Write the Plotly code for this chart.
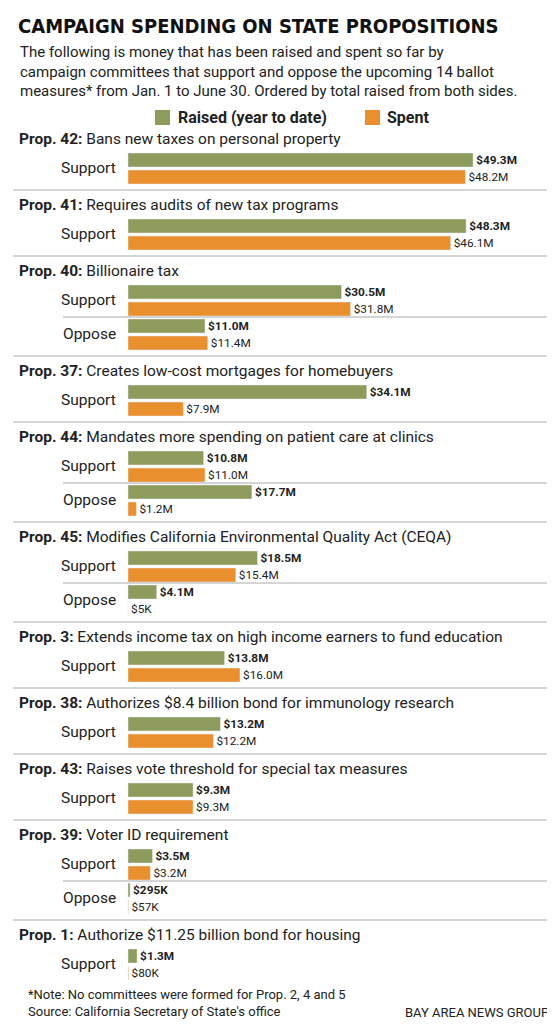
import plotly.graph_objects as go

props = ["Prop. 42:", "Prop. 41:", "Prop. 40:", "Prop. 37:", "Prop. 44:", "Prop. 45:",
         "Prop. 3:", "Prop. 38:", "Prop. 43:", "Prop. 39:", "Prop. 1:"]
descs = ["Bans new taxes on personal property", "Requires audits of new tax programs",
         "Billionaire tax", "Creates low-cost mortgages for homebuyers",
         "Mandates more spending on patient care at clinics",
         "Modifies California Environmental Quality Act (CEQA)",
         "Extends income tax on high income earners to fund education",
         "Authorizes $8.4 billion bond for immunology research",
         "Raises vote threshold for special tax measures",
         "Voter ID requirement", "Authorize $11.25 billion bond for housing"]
sides = [["Support"], ["Support"], ["Support", "Oppose"], ["Support"], ["Support", "Oppose"],
         ["Support", "Oppose"], ["Support"], ["Support"], ["Support"], ["Support", "Oppose"], ["Support"]]
raised = [[49.3], [48.3], [30.5, 11.0], [34.1], [10.8, 17.7], [18.5, 4.1], [13.8], [13.2], [9.3], [3.5, 0.295], [1.3]]
spent = [[48.2], [46.1], [31.8, 11.4], [7.9], [11.0, 1.2], [15.4, 0.005], [16.0], [12.2], [9.3], [3.2, 0.057], [0.08]]
raised_lbl = [["$49.3M"], ["$48.3M"], ["$30.5M", "$11.0M"], ["$34.1M"], ["$10.8M", "$17.7M"],
              ["$18.5M", "$4.1M"], ["$13.8M"], ["$13.2M"], ["$9.3M"], ["$3.5M", "$295K"], ["$1.3M"]]
spent_lbl = [["$48.2M"], ["$46.1M"], ["$31.8M", "$11.4M"], ["$7.9M"], ["$11.0M", "$1.2M"],
             ["$15.4M", "$5K"], ["$16.0M"], ["$12.2M"], ["$9.3M"], ["$3.2M", "$57K"], ["$80K"]]

GREEN = "#8d9b5c"
ORANGE = "#e98f2e"
FONT = "Roboto"
PXU = 7.0  # px per $M
W, H = 555, 1024

ry, sy, rv, sv, rt, st = [], [], [], [], [], []
ann, shapes = [], []
y = 131
for i, p in enumerate(props):
    ann.append(dict(x=-120/PXU + 9/PXU, y=y, xanchor="left", yanchor="middle",
                    text=f"<b>{p}</b> {descs[i]}", showarrow=False,
                    font=dict(size=15.5, color="#222", family=FONT)))
    y += 21
    for j, s in enumerate(sides[i]):
        if j > 0:
            shapes.append(dict(type="line", x0=-65/PXU, x1=(548-120)/PXU, y0=y-9, y1=y-9,
                               line=dict(color="#aaa", width=1)))
        ann.append(dict(x=-10/PXU, y=y+8, xanchor="right", yanchor="middle", text=s,
                        showarrow=False, font=dict(size=15.5, color="#222", family=FONT)))
        ry.append(y); sy.append(y+17)
        rv.append(raised[i][j]); sv.append(spent[i][j])
        rt.append(f"<b>{raised_lbl[i][j]}</b>"); st.append(spent_lbl[i][j])
        y += 34
    if i < len(props) - 1:
        shapes.append(dict(type="line", x0=-115/PXU, x1=(548-120)/PXU, y0=y-4, y1=y-4,
                           line=dict(color="#aaa", width=1)))
    y += 11

fig = go.Figure()
fig.add_trace(go.Bar(x=rv, y=ry, orientation="h", width=14, marker_color=GREEN,
                     text=rt, textposition="outside", cliponaxis=False,
                     textfont=dict(size=13.5, color="#222", family=FONT)))
fig.add_trace(go.Bar(x=sv, y=sy, orientation="h", width=14, marker_color=ORANGE,
                     text=st, textposition="outside", cliponaxis=False,
                     textfont=dict(size=13.5, color="#222", family=FONT)))

L = -120/PXU
def px(x):
    return L + x/PXU
ann += [
    dict(x=px(8), y=18, text="<b>CAMPAIGN SPENDING ON STATE PROPOSITIONS</b>", xanchor="left",
         yanchor="middle", showarrow=False, font=dict(size=20, color="#111", family="DejaVu Sans Condensed")),
    dict(x=px(10), y=63, xanchor="left", yanchor="middle", align="left", showarrow=False,
         text="The following is money that has been raised and spent so far by<br>"
              "campaign committees that support and oppose the upcoming 14 ballot<br>"
              "measures* from Jan. 1 to June 30. Ordered by total raised from both sides.",
         font=dict(size=15, color="#222", family=FONT)),
    dict(x=px(168), y=109, xanchor="left", yanchor="middle", showarrow=False,
         text="<b>Raised (year to date)</b>", font=dict(size=16, color="#222", family=FONT)),
    dict(x=px(377), y=109, xanchor="left", yanchor="middle", showarrow=False,
         text="<b>Spent</b>", font=dict(size=16, color="#222", family=FONT)),
    dict(x=px(18), y=995, xanchor="left", yanchor="middle", align="left", showarrow=False,
         text="*Note: No committees were formed for Prop. 2, 4 and 5<br>Source: California Secretary of State's office",
         font=dict(size=13, color="#222", family=FONT)),
    dict(x=px(543), y=1004, xanchor="right", yanchor="middle", showarrow=False,
         text="BAY AREA NEWS GROUP", font=dict(size=13, color="#222", family=FONT)),
]
shapes += [
    dict(type="rect", x0=px(147), x1=px(162), y0=102, y1=117, fillcolor=GREEN, line_width=0),
    dict(type="rect", x0=px(357), x1=px(372), y0=102, y1=117, fillcolor=ORANGE, line_width=0),
]

fig.update_layout(width=W, height=H, margin=dict(l=0, r=0, t=0, b=0, autoexpand=False),
                  plot_bgcolor="white", paper_bgcolor="white", showlegend=False,
                  barmode="overlay", annotations=ann, shapes=shapes,
                  xaxis=dict(range=[L, (W-120)/PXU], visible=False, fixedrange=True),
                  yaxis=dict(range=[H, 0], visible=False, fixedrange=True))
fig.write_html("out.html")
